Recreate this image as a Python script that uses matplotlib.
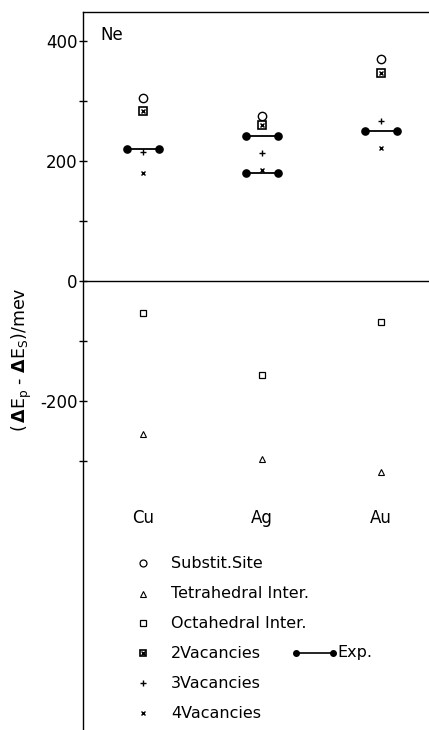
import matplotlib
matplotlib.use("Agg")
import matplotlib.pyplot as plt
from matplotlib.ticker import FixedLocator

plt.rcParams['font.family'] = ['DejaVu Sans']
plt.rcParams['mathtext.fontset'] = 'dejavusans'

metals = ["Cu", "Ag", "Au"]
substit = [306, 275, 371]
tetra = [-254, -297, -318]
octa = [-53, -156, -67]
vac2 = [284, 260, 348]
vac3 = [216, 214, 268]
vac4 = [181, 186, 222]
exp_vals = [[221], [242, 181], [251]]
major_ticks = [-200, 0, 200, 400]
minor_ticks = [-300, -100, 100, 300]

fig = plt.figure(figsize=(4.29, 7.30), dpi=100)
ax = fig.add_axes([83/429, 0, 1 - 83/429, 1 - 12/730])
ax.set_xlim(0.5, 3.4)
ax.set_ylim(-748, 449)

xs = [1, 2, 3]
ms_kw = dict(linestyle='none', color='black')
ax.plot(xs, substit, marker='o', markersize=6, markerfacecolor='white', markeredgewidth=1.0, **ms_kw)
ax.plot(xs, tetra, marker='^', markersize=4.5, markerfacecolor='white', markeredgewidth=0.8, **ms_kw)
ax.plot(xs, octa, marker='s', markersize=5, markerfacecolor='white', markeredgewidth=0.9, **ms_kw)
ax.plot(xs, vac2, marker='s', markersize=5.5, markerfacecolor='white', markeredgewidth=1.2, **ms_kw)
ax.plot(xs, vac2, marker='x', markersize=3.5, markeredgewidth=1.0, **ms_kw)
ax.plot(xs, vac3, marker='+', markersize=4.5, markeredgewidth=1.0, **ms_kw)
ax.plot(xs, vac4, marker='x', markersize=3.5, markeredgewidth=1.0, **ms_kw)

hw = 0.135
for x, vals in zip(xs, exp_vals):
    for v in vals:
        ax.plot([x - hw, x + hw], [v, v], color='black', linewidth=1.3,
                marker='o', markersize=5.2)

ax.axhline(0, color='black', linewidth=1.0)

for x, m in zip(xs, metals):
    ax.text(x, -394, m, ha='center', va='center', fontsize=12)

ax.text(0.74, 410, "Ne", ha='center', va='center', fontsize=12)

for s in ['right', 'bottom']:
    ax.spines[s].set_visible(False)
ax.spines['left'].set_linewidth(1.0)
ax.spines['top'].set_linewidth(1.0)

ax.yaxis.set_major_locator(FixedLocator(major_ticks))
ax.yaxis.set_minor_locator(FixedLocator(minor_ticks))
ax.set_yticklabels([str(t) for t in major_ticks])
ax.tick_params(axis='y', which='both', direction='inout', length=6, width=1.0, labelsize=12, pad=1)
ax.set_xticks([])

fig.text(22/429, 1 - 360/730, r"$(\,\mathbf{\Delta}\mathrm{E}_{\mathrm{p}}$ - $\mathbf{\Delta}\mathrm{E}_{\mathrm{S}})$/mev",
         rotation=90, ha='center', va='center', fontsize=12.5)

# Legend
leg_labels = ["Substit.Site", "Tetrahedral Inter.", "Octahedral Inter.", "2Vacancies", "3Vacancies", "4Vacancies"]
leg_y = [563, 594, 623, 653, 683, 713]
mx = 143 / 429
tx = 171 / 429
specs = [
    [dict(marker='o', markersize=5, markerfacecolor='white', markeredgewidth=0.9)],
    [dict(marker='^', markersize=4, markerfacecolor='white', markeredgewidth=0.8)],
    [dict(marker='s', markersize=4.5, markerfacecolor='white', markeredgewidth=0.9)],
    [dict(marker='s', markersize=5, markerfacecolor='white', markeredgewidth=1.2),
     dict(marker='x', markersize=3, markeredgewidth=1.0)],
    [dict(marker='+', markersize=4, markeredgewidth=1.0)],
    [dict(marker='x', markersize=3, markeredgewidth=1.0)],
]
for lab, y, sp in zip(leg_labels, leg_y, specs):
    yf = 1 - y / 730
    for kw in sp:
        fig.lines.append(plt.Line2D([mx], [yf], transform=fig.transFigure, color='black', linestyle='none', **kw))
    fig.text(tx, yf, lab, ha='left', va='center', fontsize=11.5)

yf = 1 - 653 / 730
fig.lines.append(plt.Line2D([296/429, 333/429], [yf, yf], transform=fig.transFigure, color='black',
                            linewidth=1.2, marker='o', markersize=4))
fig.text(337/429, yf, "Exp.", ha='left', va='center', fontsize=11.5)

fig.savefig("out.png", dpi=100)
